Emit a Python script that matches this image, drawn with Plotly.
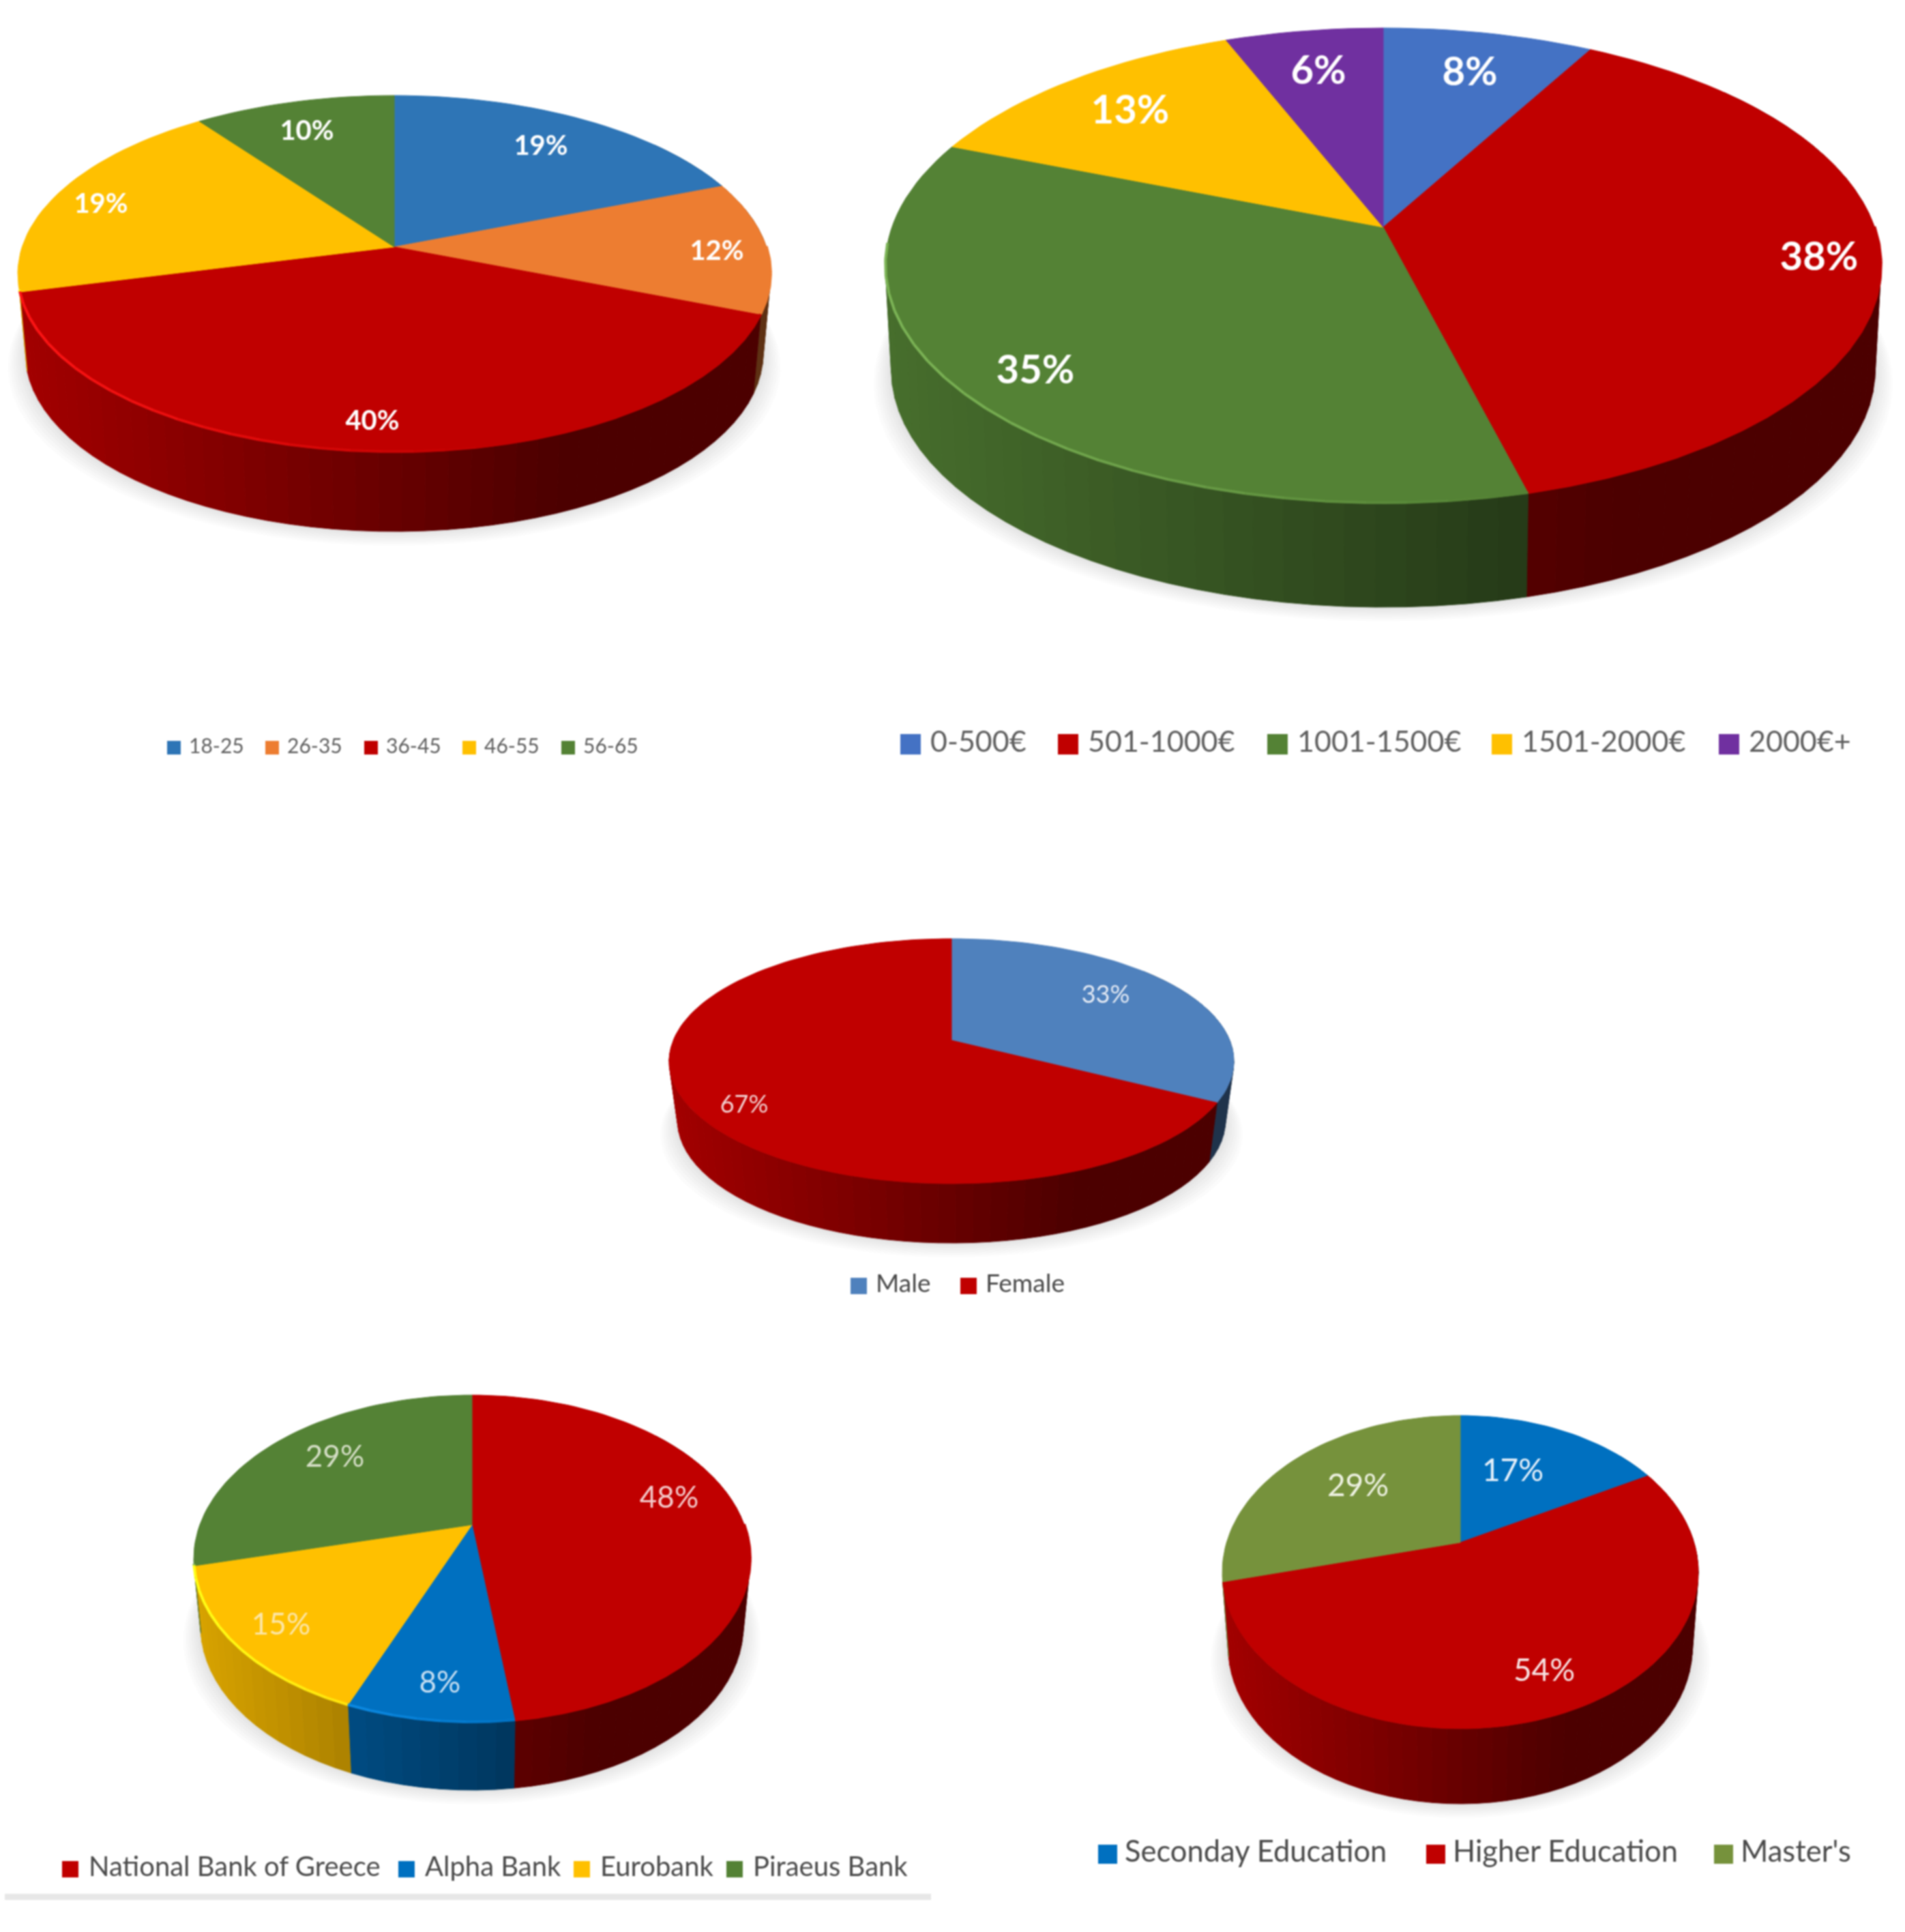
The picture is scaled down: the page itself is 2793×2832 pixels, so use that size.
import numpy as np
import plotly.graph_objects as go

W, H = 2793, 2832

# ---------- data ----------
age_labels = ["18-25", "26-35", "36-45", "46-55", "56-65"]
age_values = [19, 12, 40, 19, 10]
income_labels = ["0-500€", "501-1000€", "1001-1500€", "1501-2000€", "2000€+"]
income_values = [8, 38, 35, 13, 6]
gender_labels = ["Male", "Female"]
gender_values = [33, 67]
bank_labels = ["National Bank of Greece", "Alpha Bank", "Eurobank", "Piraeus Bank"]
bank_values = [48, 8, 15, 29]
edu_labels = ["Seconday Education", "Higher Education", "Master's"]
edu_values = [17, 54, 29]

# ---------- styles ----------
RED, GREEN, YEL = "#C00000", "#548235", "#FFC000"
PIES = [
    dict(labels=age_labels, values=age_values,
         colors=["#2E75B6", "#ED7D31", RED, YEL, GREEN],
         cx=578, rx=552, ay=362, above=222, below=301, depth=116, s=0.98, bevel=True, wall_end=256,
         label_pos=[(793, 217), (1051, 371), (546, 620), (148, 302), (450, 195)],
         label_font=dict(size=40, family="Lato", weight="bold"), label_colors=["#FFFFFF"] * 5,
         leg_x=[255, 399, 544, 688, 833], leg_y=1096, leg_font=30, leg_sw=20, leg_gap=22,
         leg_color="#5F5F5F"),
    dict(labels=income_labels, values=income_values,
         colors=["#4472C4", RED, GREEN, YEL, "#7030A0"],
         cx=2028, rx=730, ay=333, above=292, below=405, depth=152, s=0.988, bevel=True, wall_end=266,
         label_pos=[(2155, 110), (2667, 381), (1518, 547), (1657, 166), (1933, 108)],
         label_font=dict(size=58, family="Lato", weight="bold"), label_colors=["#FFFFFF"] * 5,
         leg_x=[1335, 1566, 1873, 2202, 2535], leg_y=1091, leg_font=43, leg_sw=30, leg_gap=29,
         leg_color="#5F5F5F"),
    dict(labels=gender_labels, values=gender_values,
         colors=["#4F81BD", RED],
         cx=1395, rx=414, ay=1525, above=149, below=210, depth=87, s=0.97, bevel=False, wall_end=264,
         label_pos=[(1621, 1461), (1091, 1622)],
         label_font=dict(size=36, family="Lato"), label_colors=["#E4EAF4", "#F2D0D0"],
         leg_x=[1259, 1420], leg_y=1885, leg_font=37, leg_sw=24, leg_gap=25,
         leg_color="#4A4A4A"),
    dict(labels=bank_labels, values=bank_values,
         colors=[RED, "#0070C0", YEL, GREEN],
         cx=692, rx=408, ay=2235, above=190, below=290, depth=99, s=0.975, bevel=True, wall_end=256,
         label_pos=[(981, 2199), (645, 2470), (412, 2385), (491, 2139)],
         label_font=dict(size=44, family="Lato"),
         label_colors=["#F4CCCC", "#C8DFF2", "#FCE6A8", "#D5DEC6"],
         leg_x=[103, 596, 853, 1077], leg_y=2740, leg_font=40, leg_sw=24, leg_gap=27,
         leg_color="#4A4A4A"),
    dict(labels=edu_labels, values=edu_values,
         colors=["#0070C0", RED, "#76923C"],
         cx=2141, rx=349, ay=2261, above=186, below=273, depth=110, s=0.975, bevel=False, wall_end=256,
         label_pos=[(2218, 2159), (2264, 2452), (1991, 2181)],
         label_font=dict(size=46, family="Lato"), label_colors=["#E6F0FA", "#F8E4E4", "#EEF2E2"],
         leg_x=[1624, 2105, 2527], leg_y=2718, leg_font=43.5, leg_sw=28, leg_gap=25,
         leg_color="#4A4A4A"),
]
RULE = dict(x0=7, x1=1365, y0=2776, y1=2785, color="#E7E7E7")


def rgb(hexstr):
    h = hexstr.lstrip("#")
    return np.array([int(h[i:i + 2], 16) for i in (0, 2, 4)], float)


def css(c):
    c = np.clip(c, 0, 255)
    return f"rgb({int(c[0])},{int(c[1])},{int(c[2])})"


def shade(t):
    return 0.85 - 0.45 * min(max(t, 0.0) / 0.72, 1.0)


def projector(p):
    k = (p["below"] - p["above"]) / (p["below"] + p["above"])
    sy = p["above"] * (1 + k)
    sx = p["rx"] * np.sqrt(1 - k * k)

    def proj(theta):
        x, y = np.sin(theta), np.cos(theta)
        w = 1 + k * y
        return p["cx"] + sx * x / w, p["ay"] - sy * y / w
    return proj


fig = go.Figure()


def poly(xs, ys, color, lw=1):
    fig.add_trace(go.Scatter(x=list(xs), y=list(ys), mode="lines", fill="toself",
                             fillcolor=color, line=dict(color=color, width=lw),
                             hoverinfo="skip", showlegend=False))


for p in PIES:
    proj = projector(p)
    left = p["cx"] - p["rx"]
    end = np.radians(p["wall_end"])
    # soft shadow beneath the disc
    ring = np.radians(np.arange(0, 361, 4))
    rx_, ry_ = proj(ring)
    for e in (26, 22, 18, 14, 10, 6, 3):
        f = p["s"] * (1 + e / p["rx"])
        poly(p["cx"] + (rx_ - p["cx"]) * f, ry_ + p["depth"] + e * 0.8,
             "rgba(0,0,0,0.015)", lw=0)

    total = sum(p["values"])
    edges = np.cumsum([0] + list(p["values"])) / total * 2 * np.pi

    # side wall, in narrow shaded strips
    for i, col in enumerate(p["colors"]):
        a0 = max(edges[i], np.radians(50))
        a1 = min(edges[i + 1], end)
        if a1 <= a0:
            continue
        grid = np.linspace(a0, a1, max(2, int(np.degrees(a1 - a0) / 3) + 1))
        base = rgb(col)
        for g0, g1 in zip(grid[:-1], grid[1:]):
            x0, y0 = proj(g0)
            x1, y1 = proj(g1)
            t = ((x0 + x1) / 2 - left) / (2 * p["rx"])
            bx = lambda x: p["cx"] + (x - p["cx"]) * p["s"]
            poly([x0, x1, bx(x1), bx(x0), x0],
                 [y0, y1, y1 + p["depth"], y0 + p["depth"], y0], css(base * shade(t)))

    # top face, one wedge per slice
    for i, col in enumerate(p["colors"]):
        th = np.linspace(edges[i], edges[i + 1], max(3, int(np.degrees(edges[i + 1] - edges[i]) / 2)))
        xa, ya = proj(th)
        poly(np.r_[p["cx"], xa, p["cx"]], np.r_[p["ay"], ya, p["ay"]], col, lw=1)

    # lit bevel on the front-left rim
    if p["bevel"]:
        for i, col in enumerate(p["colors"]):
            a0 = max(edges[i], np.radians(90))
            a1 = min(edges[i + 1], end)
            if a1 <= a0:
                continue
            grid = np.linspace(a0, a1, max(2, int(np.degrees(a1 - a0) / 4) + 1))
            base = rgb(col)
            for g0, g1 in zip(grid[:-1], grid[1:]):
                x0, y0 = proj(g0)
                x1, y1 = proj(g1)
                t = ((x0 + x1) / 2 - left) / (2 * p["rx"])
                mix = max(0.0, 1 - t / 0.62)
                c = base + mix * (np.minimum(base * 1.22 + 22, 255) - base)
                fig.add_trace(go.Scatter(x=[x0, x1], y=[y0 - 1, y1 - 1], mode="lines",
                                         line=dict(color=css(c), width=4),
                                         hoverinfo="skip", showlegend=False))

    # percentage labels
    fig.add_trace(go.Scatter(
        x=[q[0] for q in p["label_pos"]], y=[q[1] for q in p["label_pos"]],
        mode="text", text=[f"{v}%" for v in p["values"]], textposition="middle center",
        textfont=dict(color=p["label_colors"], **p["label_font"]),
        hoverinfo="skip", showlegend=False))

    # key under the pie
    n = len(p["labels"])
    fig.add_trace(go.Scatter(
        x=p["leg_x"], y=[p["leg_y"]] * n, mode="markers", hoverinfo="skip", showlegend=False,
        marker=dict(symbol="square", size=p["leg_sw"], color=p["colors"], line=dict(width=0))))
    fig.add_trace(go.Scatter(
        x=[v + p["leg_gap"] for v in p["leg_x"]], y=[p["leg_y"]] * n, mode="text",
        text=p["labels"], textposition="middle right", hoverinfo="skip", showlegend=False,
        textfont=dict(family="Lato", size=p["leg_font"], color=p["leg_color"])))

fig.add_shape(type="rect", x0=RULE["x0"], x1=RULE["x1"], y0=RULE["y0"], y1=RULE["y1"],
              line=dict(width=0), fillcolor=RULE["color"], layer="below")

fig.update_layout(width=W, height=H, margin=dict(l=0, r=0, t=0, b=0),
                  paper_bgcolor="white", plot_bgcolor="white", showlegend=False,
                  xaxis=dict(range=[0, W], visible=False, fixedrange=True),
                  yaxis=dict(range=[H, 0], visible=False, fixedrange=True))
fig.write_html("out.html", config=dict(displayModeBar=False),
               post_script="document.body.style.margin='0';"
                           "document.querySelector('.plot-container').style.filter='blur(1.2px)';")
